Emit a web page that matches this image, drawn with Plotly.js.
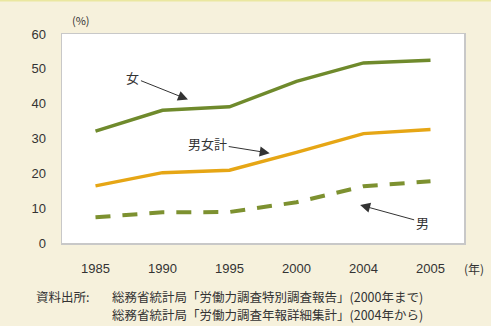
<!DOCTYPE html>
<html><head><meta charset="utf-8">
<script src="https://cdn.plot.ly/plotly-3.0.1.min.js"></script>
<style>html,body{margin:0;padding:0;background:#f6f1dc;}#c{width:491px;height:326px;}</style>
</head><body><div id="c"></div>
<script>
const years = ["1985","1990","1995","2000","2004","2005"];
const female = [32.1, 38.1, 39.1, 46.4, 51.7, 52.5];
const total = [16.4, 20.2, 20.9, 26.0, 31.4, 32.6];
const male = [7.4, 8.8, 8.9, 11.7, 16.3, 17.7];
const yTicks = [0,10,20,30,40,50,60];

const F = '"Noto Sans CJK JP", "Liberation Sans", sans-serif';
const traces = [
 {x: years, y: female, mode:'lines', line:{color:'#6f8a2c', width:3.5}, hoverinfo:'skip'},
 {x: years, y: total, mode:'lines', line:{color:'#e6a615', width:3.5}, hoverinfo:'skip'},
 {x: years, y: male, mode:'lines', line:{color:'#7d9130', width:4, dash:'15px,12px'}, hoverinfo:'skip'}
];
const ann = (x,y,text,ax,ay)=>({x:x,y:y,xref:'x',yref:'y',text:text,showarrow:true,ax:ax,ay:ay,
  arrowhead:2,arrowsize:2,arrowwidth:1,arrowcolor:'#333',font:{family:F,size:13,color:'#333'}});
const note = (x,yshift,text)=>({xref:'paper',yref:'paper',x:x,y:0,yanchor:'top',xanchor:'left',yshift:yshift,
  text:text,showarrow:false,font:{family:F,size:12.5,color:'#333'}});
const layout = {
 width:491,height:326,
 paper_bgcolor:'#f6f1dc',plot_bgcolor:'#ffffff',
 margin:{l:62,r:27,t:34,b:83},
 showlegend:false,
 xaxis:{type:'category',range:[-0.5,5.5],showgrid:false,zeroline:false,showline:true,mirror:true,
   linecolor:'#c8c8c8',linewidth:1.5,ticks:'',ticklabelstandoff:13,
   tickfont:{family:'"Liberation Sans", Arial, sans-serif',size:13,color:'#333'}},
 yaxis:{range:[0,60],tickvals:yTicks,showgrid:false,zeroline:false,showline:true,mirror:true,
   linecolor:'#c8c8c8',linewidth:1.5,ticks:'',ticklabelstandoff:12,
   tickfont:{family:'"Liberation Sans", Arial, sans-serif',size:13,color:'#333'}},
 annotations:[
  ann(1.38, 41.2, '女', -55, -22),
  ann(2.6, 25.8, '男女計', -62, -10),
  ann(3.95, 10.9, '男', 62, 17),
  {xref:'paper',yref:'paper',x:0.02,y:1.0,yanchor:'bottom',xanchor:'left',yshift:4,text:'(%)',showarrow:false,font:{family:F,size:11,color:'#333'}},
  {xref:'paper',yref:'paper',x:1.0,y:0,yanchor:'top',xanchor:'left',xshift:-2,yshift:-15,text:'(年)',showarrow:false,font:{family:F,size:12,color:'#333'}},
  note(-0.07, -42, '資料出所:'),
  note(0.12, -42, '総務省統計局「労働力調査特別調査報告」(2000年まで)'),
  note(0.12, -60, '総務省統計局「労働力調査年報詳細集計」(2004年から)')
 ],
 shapes:[{type:'rect',xref:'paper',yref:'paper',x0:-0.2,x1:1.1,y0:1.155,y1:1.2,fillcolor:'#eae7a0',line:{width:0},layer:'below'}]
};
Plotly.newPlot('c',traces,layout,{staticPlot:true,displayModeBar:false});
</script></body></html>
